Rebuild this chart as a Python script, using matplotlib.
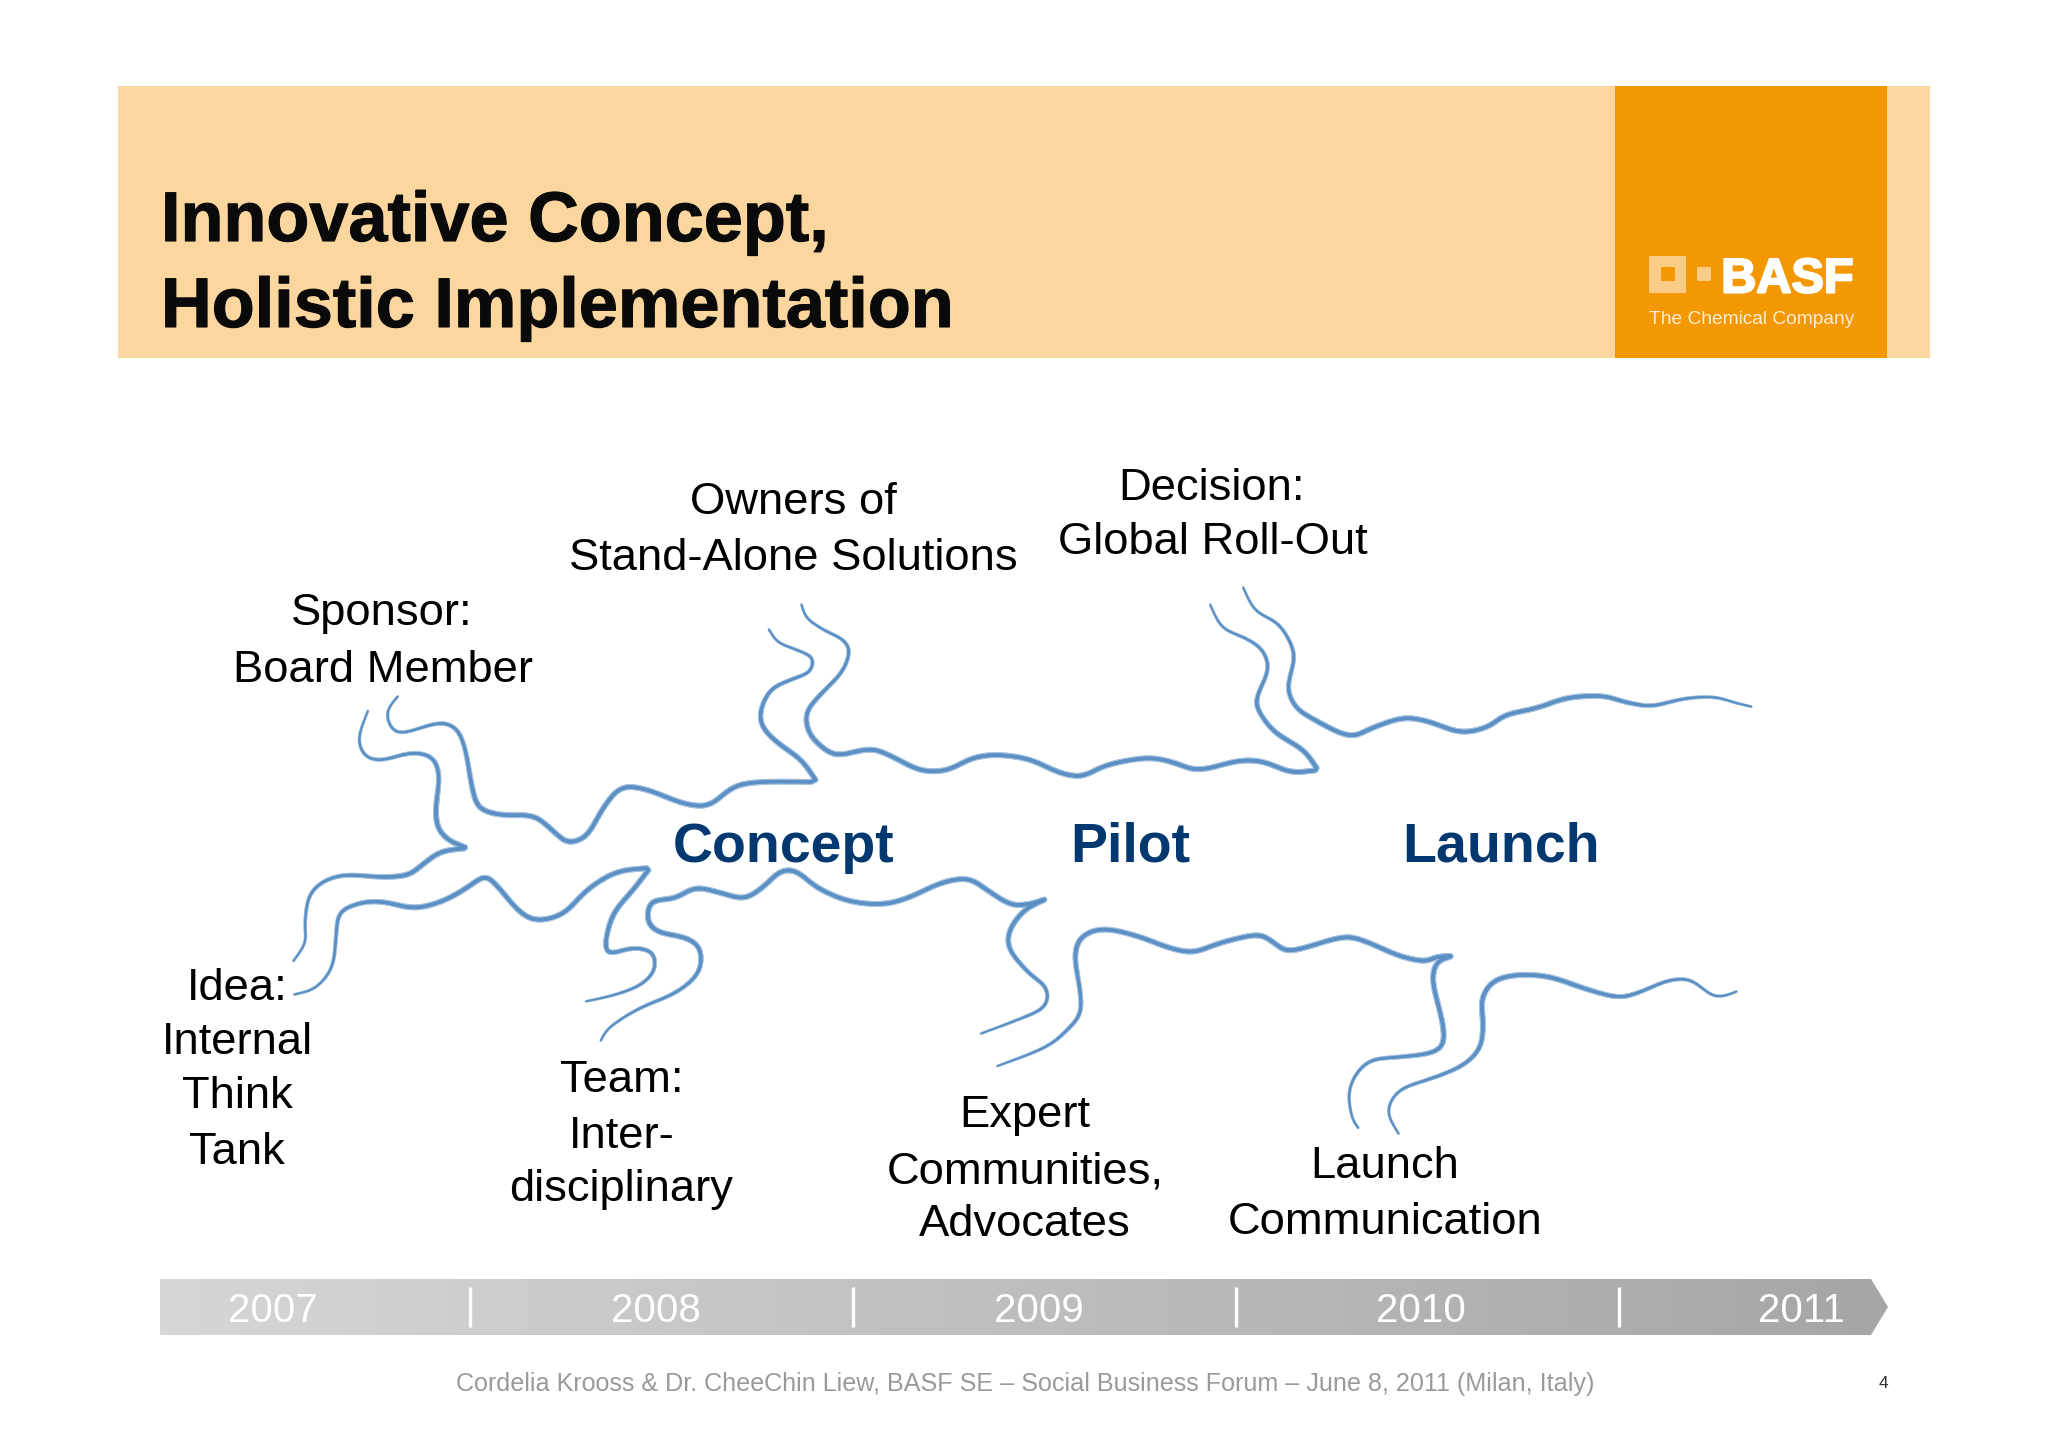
import numpy as np
import matplotlib
matplotlib.use("Agg")
import matplotlib.pyplot as plt
import matplotlib.patheffects as pe
from matplotlib.collections import LineCollection
from matplotlib.patches import Polygon, Rectangle

plt.rcParams['font.family'] = ['Liberation Sans', 'DejaVu Sans']

title_lines = ["Innovative Concept,", "Holistic Implementation"]
phases = ["Concept", "Pilot", "Launch"]
years = ["2007", "2008", "2009", "2010", "2011"]
footer = "Cordelia Krooss & Dr. CheeChin Liew, BASF SE \u2013 Social Business Forum \u2013 June 8, 2011 (Milan, Italy)"
page_no = "4"
labels = [
    ("Owners of", 793, 503), ("Stand-Alone Solutions", 793, 559),
    ("Decision:", 1212, 489), ("Global Roll-Out", 1213, 543),
    ("Sponsor:", 382, 614), ("Board Member", 383, 671),
    ("Idea:", 237, 988), ("Internal", 237, 1043), ("Think", 237, 1097), ("Tank", 237, 1152),
    ("Team:", 622, 1081), ("Inter-", 622, 1137), ("disciplinary", 621, 1190),
    ("Expert", 1025, 1116), ("Communities,", 1025, 1172), ("Advocates", 1025, 1225),
    ("Launch", 1385, 1167), ("Communication", 1385, 1223),
]

# hand-drawn streams in image pixels
sponsor_idea = [(369, 708), (359, 737), (365, 755), (382, 760), (411, 753), (432, 758), (439, 777), (436, 807),
                (438, 827), (449, 840), (467, 848), (441, 852), (422, 865), (407, 875), (380, 877), (346, 875),
                (323, 882), (309, 897), (305, 923), (305, 943), (292, 963)]
sponsor_owner = [(399, 695), (388, 710), (390, 725), (403, 733), (438, 723), (457, 730), (466, 753), (472, 787),
                 (480, 808), (503, 815), (533, 816), (552, 830), (568, 842), (587, 835), (602, 810), (621, 788),
                 (648, 790), (682, 803), (709, 805), (732, 788), (759, 782), (817, 782), (801, 760), (778, 743),
                 (763, 727), (761, 710), (771, 690), (790, 680), (809, 672), (812, 658), (797, 650), (778, 642),
                 (768, 628)]
owner_decision = [(801, 603), (807, 618), (824, 630), (843, 640), (849, 653), (841, 673), (822, 693), (807, 712),
                  (809, 732), (822, 747), (839, 755), (870, 749), (893, 757), (920, 770), (947, 770), (973, 758),
                  (1000, 755), (1031, 760), (1058, 772), (1082, 776), (1107, 765), (1146, 758), (1172, 762),
                  (1199, 770), (1237, 761), (1264, 762), (1291, 772), (1318, 770), (1303, 750), (1276, 733),
                  (1260, 713), (1257, 697), (1268, 670), (1262, 650), (1245, 638), (1222, 627), (1209, 602)]
decision_end = [(1242, 585), (1255, 610), (1277, 623), (1290, 642), (1294, 660), (1288, 687), (1296, 707), (1315, 720),
                (1349, 736), (1372, 728), (1403, 718), (1430, 722), (1460, 732), (1487, 727), (1506, 715), (1537, 708),
                (1567, 698), (1602, 696), (1625, 702), (1652, 706), (1682, 699), (1713, 697), (1736, 703), (1753, 707)]
idea_team = [(292, 995), (315, 988), (332, 967), (336, 937), (340, 913), (361, 903), (384, 902), (415, 908), (445, 900),
             (468, 887), (485, 877), (499, 888), (518, 910), (537, 920), (564, 913), (587, 890), (617, 872), (650, 868),
             (633, 890), (614, 913), (606, 940), (610, 953), (633, 948), (652, 953), (654, 970), (640, 985), (614, 995),
             (583, 1002)]
team_expert = [(600, 1042), (610, 1027), (640, 1008), (675, 993), (698, 973), (700, 950), (686, 938), (659, 932),
               (648, 920), (652, 902), (675, 898), (696, 888), (721, 893), (744, 898), (763, 887), (780, 872), (797, 872),
               (818, 888), (849, 901), (883, 904), (910, 897), (941, 883), (968, 879), (987, 890), (1010, 904),
               (1029, 904), (1046, 899), (1025, 910), (1010, 930), (1010, 950), (1029, 973), (1046, 988), (1044, 1007),
               (1017, 1020), (977, 1035)]
expert_launch = [(992, 1068), (1044, 1048), (1067, 1030), (1080, 1013), (1080, 990), (1075, 957), (1082, 937), (1105, 929),
                 (1140, 937), (1167, 947), (1193, 952), (1220, 943), (1255, 935), (1270, 940), (1285, 950), (1304, 948),
                 (1343, 937), (1367, 942), (1397, 955), (1423, 961), (1437, 957), (1452, 956), (1437, 963), (1433, 983),
                 (1442, 1020), (1443, 1043), (1430, 1053), (1400, 1057), (1373, 1060), (1357, 1073), (1349, 1093),
                 (1352, 1117), (1359, 1129)]
launch_end = [(1400, 1136), (1388, 1112), (1400, 1090), (1433, 1078), (1463, 1065), (1480, 1047), (1483, 1023),
              (1482, 1000), (1493, 982), (1517, 975), (1550, 977), (1583, 988), (1617, 997), (1640, 992), (1667, 981),
              (1690, 980), (1710, 994), (1723, 996), (1738, 991)]
streams = [sponsor_idea, sponsor_owner, owner_decision, decision_end, idea_team, team_expert, expert_launch, launch_end]


def smooth(pts, n=14, win=11):
    # catmull-rom through the traced points, then a short running mean
    pts = np.array(pts, dtype=float)
    p = np.vstack([2 * pts[0] - pts[1], pts, 2 * pts[-1] - pts[-2]])
    t = np.linspace(0, 1, n, endpoint=False)[:, None]
    out = []
    for i in range(1, len(p) - 2):
        out.append(0.5 * (2 * p[i] + (p[i + 1] - p[i - 1]) * t
                          + (2 * p[i - 1] - 5 * p[i] + 4 * p[i + 1] - p[i + 2]) * t ** 2
                          + (3 * p[i] - p[i - 1] - 3 * p[i + 1] + p[i + 2]) * t ** 3))
    out.append(pts[-1:])
    xy = np.vstack(out)
    pad = win // 2
    padded = np.vstack([np.repeat(xy[:1], pad, axis=0), xy, np.repeat(xy[-1:], pad, axis=0)])
    kernel = np.ones(win) / win
    return np.c_[np.convolve(padded[:, 0], kernel, "valid"), np.convolve(padded[:, 1], kernel, "valid")]


def split_at_tips(pts):
    # sharp turn-backs must stay sharp, so they break the spline
    pieces, cur = [], [pts[0]]
    for i in range(1, len(pts) - 1):
        cur.append(pts[i])
        a = np.subtract(pts[i], pts[i - 1])
        b = np.subtract(pts[i + 1], pts[i])
        if np.dot(a, b) / (np.linalg.norm(a) * np.linalg.norm(b)) < -0.5:
            pieces.append(cur)
            cur = [pts[i]]
    cur.append(pts[-1])
    pieces.append(cur)
    return pieces


def draw_stream(ax, pts):
    xy = np.vstack([smooth(p) for p in split_at_tips(pts)])
    seg = np.stack([xy[:-1], xy[1:]], axis=1)
    d = np.r_[0, np.cumsum(np.linalg.norm(np.diff(xy, axis=0), axis=1))]
    d = (d[:-1] + d[1:]) / 2
    edge = np.minimum(d, d.max() - d)
    w = 2.0 + 2.3 * np.clip(edge / 170, 0, 1)
    ax.add_collection(LineCollection(seg, linewidths=w, colors="#a4c1df", capstyle="round", zorder=3))
    ax.add_collection(LineCollection(seg, linewidths=w * 0.6, colors="#5b90c5", capstyle="round", zorder=4))


fig = plt.figure(figsize=(20.48, 14.47), dpi=100)
ax = fig.add_axes([0, 0, 1, 1])
ax.set_xlim(0, 2048)
ax.set_ylim(1447, 0)
ax.axis("off")

# header band and logo
ax.add_patch(Rectangle((118, 86), 1812, 272, fc="#fbd69e", ec="none"))
ax.add_patch(Rectangle((1615, 86), 272, 272, fc="#f39800", ec="none"))
ax.add_patch(Rectangle((1649, 256), 37, 37, fc="#fbcc87", ec="none"))
ax.add_patch(Rectangle((1661, 267), 14, 14, fc="#f39800", ec="none"))
ax.add_patch(Rectangle((1697, 267), 14, 14, fc="#fbcc87", ec="none"))
ax.text(1787.5, 292.5, "BASF", color="white", fontsize=35, fontweight="bold", ha="center", va="baseline",
        path_effects=[pe.withStroke(linewidth=1.6, foreground="white")])
ax.text(1752, 319, "The Chemical Company", color="#fdeed6", fontsize=13.8, ha="center", va="center")

for line, y in zip(title_lines, [241, 327]):
    ax.text(161, y, line, color="#0a0a0a", fontsize=50.6, fontweight="bold", ha="left", va="baseline",
            path_effects=[pe.withStroke(linewidth=0.8, foreground="#0a0a0a")])

for s in streams:
    draw_stream(ax, s)

for txt, x, y in labels:
    ax.text(x, y, txt, color="black", fontsize=32.7, ha="center", va="center")

for txt, x in zip(phases, [784, 1130, 1501]):
    ax.text(x, 848, txt, color="#00386f", fontsize=40, fontweight="bold", ha="center", va="center")

# timeline arrow with grey gradient
arrow = Polygon([(160, 1279), (1871, 1279), (1888, 1307), (1871, 1335), (160, 1335)], closed=True,
                fc="none", ec="none", transform=ax.transData)
ax.add_patch(arrow)
grad = ax.imshow(np.linspace(0, 1, 256)[None, :], extent=(160, 1888, 1335, 1279), aspect="auto", zorder=1,
                 cmap=matplotlib.colors.LinearSegmentedColormap.from_list("bar", ["#d6d6d6", "#a6a6a6"]))
grad.set_clip_path(arrow)
ax.set_xlim(0, 2048)
ax.set_ylim(1447, 0)

for x in [470, 853, 1236, 1619]:
    ax.plot([x, x], [1287, 1327], color="white", lw=2.4, solid_capstyle="butt", zorder=2)
for txt, x in zip(years, [273, 656, 1039, 1421, 1801]):
    ax.text(x, 1311, txt, color="white", fontsize=29, ha="center", va="center", zorder=2)

ax.text(1025, 1384, footer, color="#9a9a9a", fontsize=18.1, ha="center", va="center")
ax.text(1883, 1383, page_no, color="#333333", fontsize=12.5, ha="center", va="center")

fig.savefig("out.png", dpi=100, facecolor="white")
